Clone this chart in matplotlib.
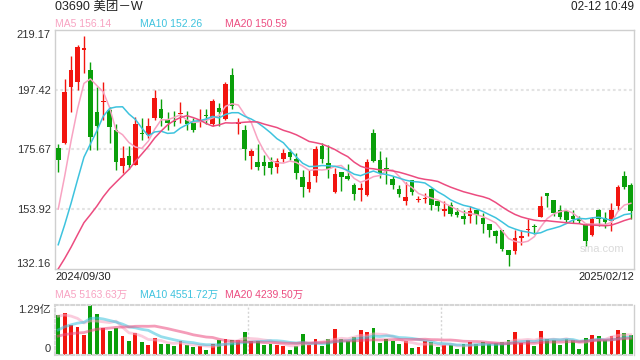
import matplotlib
matplotlib.use("Agg")
import matplotlib.pyplot as plt
import numpy as np
import pandas as pd

plt.rcParams['font.family'] = ['Liberation Sans', 'Noto Sans CJK SC', 'DejaVu Sans']

# daily candles 2024/09/30 .. 2025/02/12, HKD
opens = [176.3, 177.9, 198.3, 200.2, 211.9, 204.7, 189.3, 192.9, 190.0, 182.9,
         169.8, 173.4, 170.1, 181.8, 181.0, 187.1, 190.4, 186.5, 186.0, 188.7,
         186.5, 185.7, 186.6, 188.1, 184.9, 190.8, 186.8, 202.9, 185.1, 182.9,
         173.2, 171.0, 171.0, 171.0, 169.2, 172.2, 174.8, 172.2, 165.7, 161.3,
         165.9, 176.8, 170.8, 160.2, 167.3, 166.1, 162.9, 160.8, 159.0, 181.7,
         172.0, 169.0, 164.9, 161.4, 156.8, 164.7, 157.4, 157.6, 161.3, 156.8,
         153.2, 155.6, 152.8, 151.6, 151.3, 153.8, 150.8, 148.7, 145.9, 146.2,
         138.9, 138.6, 143.4, 146.5, 147.9, 151.0, 159.8, 157.4, 153.5, 153.1,
         151.5, 150.5, 148.3, 144.7, 153.8, 150.8, 149.8, 155.0, 166.1, 162.6]
highs = [177.8, 201.4, 209.8, 213.8, 217.1, 207.5, 198.4, 200.1, 191.1, 185.0,
         176.8, 176.8, 187.5, 187.1, 187.1, 197.4, 194.0, 189.3, 189.5, 192.8,
         189.8, 187.1, 190.4, 190.5, 194.0, 192.6, 200.4, 205.5, 187.1, 184.7,
         175.8, 177.8, 173.8, 173.0, 172.6, 175.9, 175.9, 174.4, 168.1, 168.3,
         176.8, 178.0, 177.4, 168.9, 167.3, 170.5, 163.5, 163.5, 172.3, 183.1,
         175.0, 173.0, 165.9, 162.6, 163.9, 164.7, 158.9, 159.8, 161.7, 157.4,
         156.8, 156.6, 154.3, 153.5, 155.2, 153.8, 152.6, 148.7, 146.4, 146.2,
         139.2, 146.4, 146.4, 150.4, 148.6, 158.9, 160.0, 157.4, 155.5, 153.8,
         153.5, 151.3, 148.9, 151.1, 154.0, 152.8, 156.2, 162.6, 167.7, 163.5]
lows = [167.5, 177.6, 189.2, 197.4, 203.5, 175.4, 175.4, 186.5, 178.0, 168.3,
        167.1, 168.6, 169.9, 179.2, 179.8, 186.3, 184.1, 182.9, 184.1, 185.3,
        182.9, 182.0, 183.9, 184.9, 184.1, 184.1, 186.5, 190.4, 181.3, 172.0,
        168.6, 168.1, 166.5, 166.8, 167.1, 171.0, 172.0, 165.1, 158.3, 160.2,
        163.7, 170.8, 165.3, 159.8, 160.7, 164.7, 157.1, 156.8, 158.9, 171.0,
        165.3, 163.2, 161.4, 158.3, 155.6, 159.2, 156.4, 156.2, 153.5, 153.2,
        151.6, 151.3, 151.1, 148.4, 149.0, 148.4, 145.3, 143.7, 141.6, 138.6,
        133.4, 137.8, 141.0, 144.1, 145.0, 151.0, 154.9, 151.3, 150.2, 149.2,
        149.0, 149.0, 140.6, 144.1, 147.7, 147.1, 146.0, 153.8, 161.3, 150.5]
closes = [171.9, 196.6, 204.7, 212.9, 212.5, 180.2, 184.4, 193.3, 183.8, 171.2,
          172.6, 170.1, 185.1, 181.4, 184.3, 194.4, 187.1, 185.3, 185.5, 189.1,
          184.9, 182.6, 186.9, 187.8, 193.4, 189.2, 199.6, 191.6, 185.5, 175.8,
          175.2, 169.2, 169.5, 168.8, 171.6, 174.4, 173.0, 167.1, 161.9, 163.9,
          175.9, 172.2, 168.6, 166.9, 165.7, 165.0, 159.5, 161.7, 171.1, 171.6,
          167.1, 168.6, 162.6, 159.5, 158.3, 160.1, 157.8, 158.0, 155.6, 155.0,
          154.1, 152.3, 151.7, 150.5, 153.3, 152.0, 148.6, 146.5, 144.3, 139.4,
          137.4, 143.5, 144.2, 146.8, 147.6, 155.2, 158.8, 152.6, 151.1, 149.9,
          150.2, 149.5, 142.3, 150.4, 150.2, 149.2, 153.8, 162.0, 162.0, 153.4]
# volume in millions of shares
volumes = [101.8, 109.4, 78.0, 71.2, 50.9, 129.0, 106.8, 67.8, 61.1, 69.5,
           48.3, 35.6, 55.1, 31.4, 25.4, 42.4, 28.0, 27.1, 21.2, 33.9,
           24.6, 18.7, 21.2, 12.7, 28.0, 38.2, 39.9, 38.2, 38.2, 57.7,
           33.9, 33.9, 25.4, 28.0, 25.4, 22.9, 12.7, 22.9, 53.4, 25.4,
           40.7, 22.9, 40.7, 66.1, 40.7, 33.9, 44.9, 63.6, 58.5, 68.7,
           28.8, 39.9, 35.6, 28.0, 33.9, 17.8, 20.4, 33.9, 31.4, 20.4,
           23.7, 25.4, 13.6, 28.0, 31.4, 28.0, 31.4, 28.0, 29.7, 31.4,
           38.2, 59.4, 29.7, 38.2, 21.2, 61.9, 40.7, 38.2, 25.4, 39.9,
           36.5, 15.3, 43.2, 50.9, 48.3, 38.2, 48.3, 63.6, 56.8, 50.9]

# the 19 sessions before the window, only needed to start the moving averages
prior_closes = [121, 122, 123, 124, 122, 123, 124, 125, 124, 126,
                124, 126, 128, 130, 132, 137, 140, 155, 166]
prior_volumes = [30, 34, 31, 33, 32, 30, 35, 31, 32, 32,
                 26, 27, 28, 29, 30, 94, 93, 101, 110]

title = "03690 美团－W"
stamp = "02-12 10:49"
price_ticks = [132.16, 153.92, 175.67, 197.42, 219.17]
first_day, last_day = "2024/09/30", "2025/02/12"
ma_labels = ["MA5 156.14", "MA10 152.26", "MA20 150.59"]
vol_labels = ["MA5 5163.63万", "MA10 4551.72万", "MA20 4239.50万"]
vol_max_label = "1.29亿"

RED, GREEN = "#f2150f", "#0a9f0a"
MA_COLORS = ["#f8a3c2", "#3ec3de", "#ec4c80"]
TXT = "#333333"
EDGE = "#cfcfcf"

o, h, l, c = map(np.array, (opens, highs, lows, closes))
x = np.arange(len(c))
up = c >= o
cols = np.where(up, RED, GREEN)

n_prior = len(prior_closes)
cs = pd.Series(prior_closes + closes, dtype=float)
vs = pd.Series(prior_volumes + volumes, dtype=float)

fig = plt.figure(figsize=(6.4, 3.6), dpi=100)
ax = fig.add_axes([55 / 640, 1 - 269 / 360, 579 / 640, 239 / 360])
axv = fig.add_axes([55 / 640, 1 - 354.5 / 360, 579 / 640, 49.5 / 360])

# price panel
ax.set_xlim(-0.5, len(c) - 0.5)
ax.set_ylim(price_ticks[0], price_ticks[-1])
for t in price_ticks[1:-1]:
    ax.axhline(t, color="#e3e3e3", lw=1.5, ls=(0, (1.3, 1.3)), zorder=0)
ax.vlines(x, l, h, colors=cols, lw=1, zorder=2)
ax.bar(x, np.maximum(np.abs(c - o), 0.35), bottom=np.minimum(o, c),
       width=0.72, color=cols, zorder=3)
for w, col in zip([5, 10, 20], MA_COLORS):
    ma = cs.rolling(w).mean().to_numpy()[n_prior:]
    ax.plot(x, ma, color=col, lw=1.1, zorder=4)

ax.set_yticks(price_ticks)
ax.set_yticklabels([f"{t:.2f}" for t in price_ticks])
ax.tick_params(axis="y", length=0, pad=3, labelsize=8, labelcolor=TXT)
ax.get_yticklabels()[0].set_va("bottom")
ax.get_yticklabels()[-1].set_va("top")
ax.set_xticks([])
for s in ax.spines.values():
    s.set_color(EDGE)
    s.set_linewidth(1)

ax.text(0.945, 0.085, "sina.com", transform=ax.transAxes, ha="center",
        va="center", fontsize=8, color="#dadada", zorder=5)

# volume panel
axv.set_xlim(-0.5, len(c) - 0.5)
axv.set_ylim(0, max(volumes))
axv.bar(x, volumes, width=0.6, color=cols, zorder=2)
for w, col in zip([5, 10, 20], MA_COLORS):
    ma = vs.rolling(w).mean().to_numpy()[n_prior:]
    axv.plot(x, ma, color=col, lw=2, alpha=0.55, zorder=3)
for frac in (1 / 3, 2 / 3):
    axv.axvline(-0.5 + len(c) * frac, color="#d5d5d5", lw=1,
                ls=(0, (1.5, 1.5)), zorder=0)
axv.set_yticks([0, max(volumes)])
axv.set_yticklabels(["0", vol_max_label])
axv.tick_params(axis="y", length=0, pad=3, labelsize=8, labelcolor=TXT)
axv.get_yticklabels()[0].set_va("bottom")
axv.get_yticklabels()[-1].set_va("top")
axv.set_xticks([])
for name, s in axv.spines.items():
    s.set_color("#d5d5d5")
    s.set_linewidth(1.5)
    if name != "right":
        s.set_linestyle((0, (1.3, 1.3)))
axv.spines["right"].set_linewidth(1)
axv.spines["right"].set_color(EDGE)

# texts
fig.text(55 / 640, 1 - 7 / 360, title, fontsize=9, color="#222222", va="center")
fig.text(634 / 640, 1 - 7.5 / 360, stamp, fontsize=8.5, color="#222222",
         va="center", ha="right")
for lab, col, px in zip(ma_labels, MA_COLORS, [55, 140, 225]):
    fig.text(px / 640, 1 - 24 / 360, lab, fontsize=7.5, color=col, va="center")
for lab, col, px in zip(vol_labels, MA_COLORS, [55, 140, 225]):
    fig.text(px / 640, 1 - 295 / 360, lab, fontsize=7.5, color=col, va="center")
fig.text(55 / 640, 1 - 277.5 / 360, first_day, fontsize=8, color="#222222",
         va="center")
fig.text(634 / 640, 1 - 277.5 / 360, last_day, fontsize=8, color="#222222",
         va="center", ha="right")

fig.savefig("out.png", dpi=100)
